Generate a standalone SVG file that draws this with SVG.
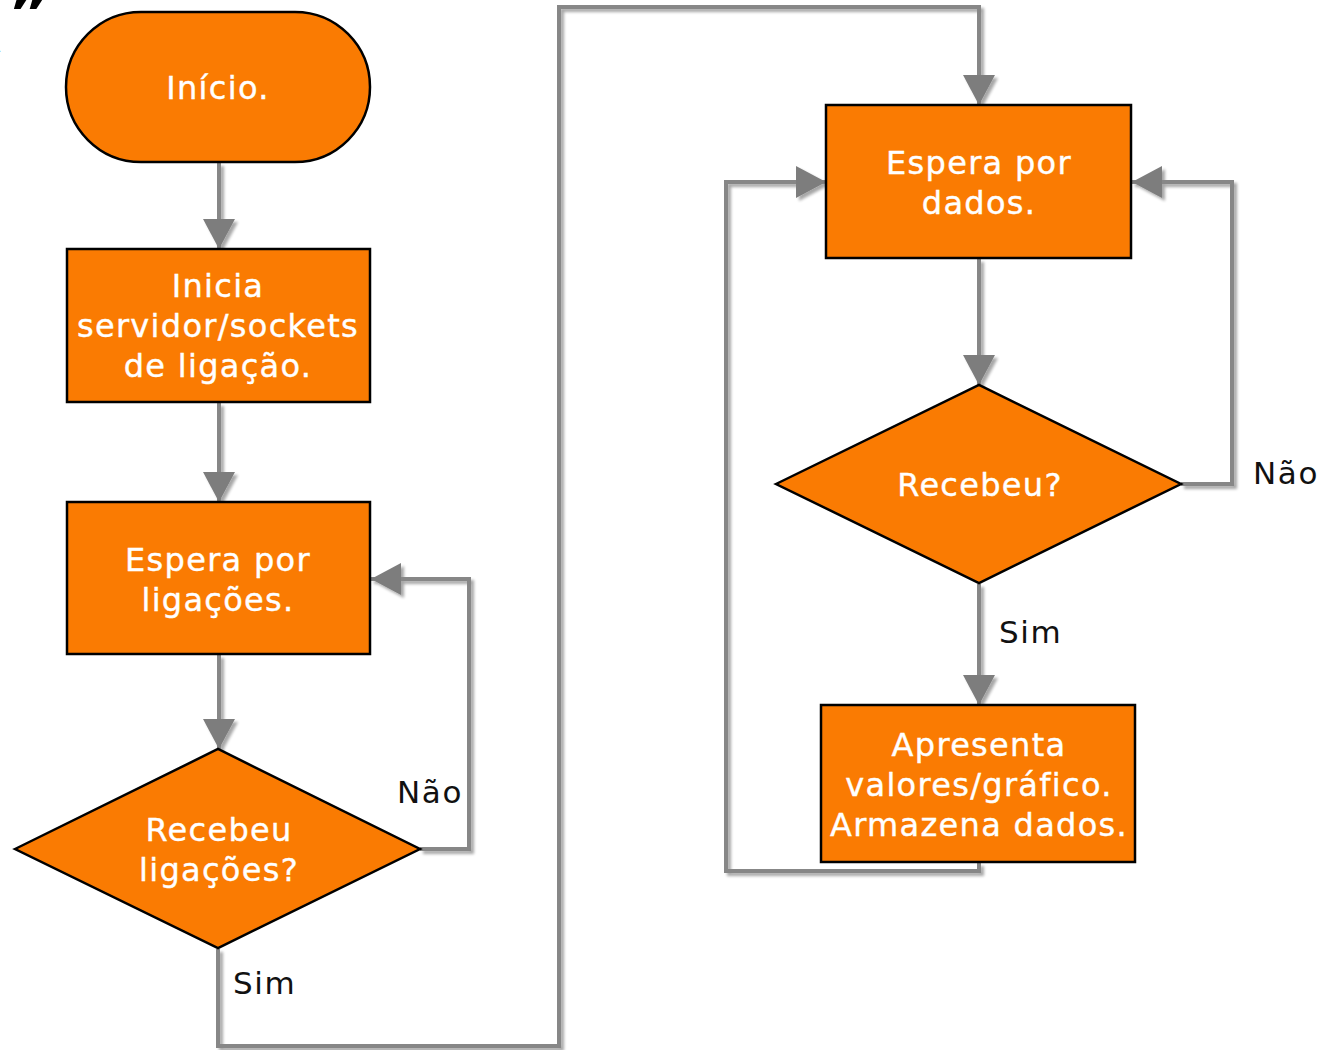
<svg xmlns="http://www.w3.org/2000/svg" width="1335" height="1050" viewBox="0 0 1335 1050">
  <style>
    .node { fill: #FA7B02; stroke: #000; stroke-width: 2.5; }
    .lbl { font-family: "DejaVu Sans", Verdana, sans-serif; font-size: 32px; letter-spacing: 1.3px; fill: #fff; stroke: #fff; stroke-width: 0.4; text-anchor: middle; }
    .edge-lbl { font-family: "DejaVu Sans", Verdana, sans-serif; font-size: 31px; letter-spacing: 1.6px; fill: #111; }
    .wire { fill: none; stroke: #878787; stroke-width: 4; stroke-linejoin: miter; }
    .frag { font-family: "DejaVu Sans", sans-serif; font-weight: bold; fill: #000; }
  </style>
  <defs>
    <marker id="arrow" markerUnits="userSpaceOnUse" markerWidth="30" markerHeight="32" refX="30" refY="16" orient="auto">
      <path d="M0,0 L30,16 L0,32 z" fill="#7d7d7d"/>
    </marker>
    <filter id="shade" x="-5%" y="-5%" width="110%" height="110%">
      <feGaussianBlur in="SourceAlpha" stdDeviation="1.5"/>
      <feOffset dx="3" dy="3" result="b"/>
      <feComponentTransfer><feFuncA type="linear" slope="0.35"/></feComponentTransfer>
      <feMerge><feMergeNode/><feMergeNode in="SourceGraphic"/></feMerge>
    </filter>
  </defs>
  <rect width="1335" height="1050" fill="#fff"/>

  <!-- clipped marks from the page edge -->
  <text class="frag" x="8" y="36" font-size="64">”</text>
  <text class="frag" x="-26" y="52" font-size="34">A</text>

  <g id="connectors" filter="url(#shade)">
    <path class="wire" d="M219,163 V249" marker-end="url(#arrow)"/>
    <path class="wire" d="M219,403 V502" marker-end="url(#arrow)"/>
    <path class="wire" d="M219,655 V749" marker-end="url(#arrow)"/>
    <path class="wire" d="M420,849 H469 V579 H371" marker-end="url(#arrow)"/>
    <path class="wire" d="M218,949 V1046 H559 V7 H979 V105" marker-end="url(#arrow)"/>
    <path class="wire" d="M979,259 V385" marker-end="url(#arrow)"/>
    <path class="wire" d="M1181,484 H1232 V182 H1132" marker-end="url(#arrow)"/>
    <path class="wire" d="M979,584 V705" marker-end="url(#arrow)"/>
    <path class="wire" d="M979,863 V871 H726 V182 H826" marker-end="url(#arrow)"/>
  </g>

  <g id="edge-labels">
    <text class="edge-lbl" x="397" y="803">Não</text>
    <text class="edge-lbl" x="233" y="994">Sim</text>
    <text class="edge-lbl" x="1253" y="484">Não</text>
    <text class="edge-lbl" x="999" y="643">Sim</text>
  </g>

  <g id="inicio">
    <rect class="node" x="66" y="12" width="304" height="150" rx="75" ry="75"/>
    <text class="lbl" x="218" y="99">Início.</text>
  </g>

  <g id="inicia-servidor">
    <rect class="node" x="67" y="249" width="303" height="153"/>
    <text class="lbl" x="218" y="297">Inicia</text>
    <text class="lbl" x="218" y="337">servidor/sockets</text>
    <text class="lbl" x="218" y="377">de ligação.</text>
  </g>

  <g id="espera-ligacoes">
    <rect class="node" x="67" y="502" width="303" height="152"/>
    <text class="lbl" x="218" y="571">Espera por</text>
    <text class="lbl" x="218" y="611">ligações.</text>
  </g>

  <g id="recebeu-ligacoes">
    <polygon class="node" points="15,849 218,749 420,849 218,948"/>
    <text class="lbl" x="219" y="841">Recebeu</text>
    <text class="lbl" x="219" y="881">ligações?</text>
  </g>

  <g id="espera-dados">
    <rect class="node" x="826" y="105" width="305" height="153"/>
    <text class="lbl" x="979" y="174">Espera por</text>
    <text class="lbl" x="979" y="214">dados.</text>
  </g>

  <g id="recebeu">
    <polygon class="node" points="776,484 979,385 1181,484 979,583"/>
    <text class="lbl" x="980" y="496">Recebeu?</text>
  </g>

  <g id="apresenta">
    <rect class="node" x="821" y="705" width="314" height="157"/>
    <text class="lbl" x="979" y="756">Apresenta</text>
    <text class="lbl" x="979" y="796">valores/gráfico.</text>
    <text class="lbl" x="979" y="836">Armazena dados.</text>
  </g>
</svg>
